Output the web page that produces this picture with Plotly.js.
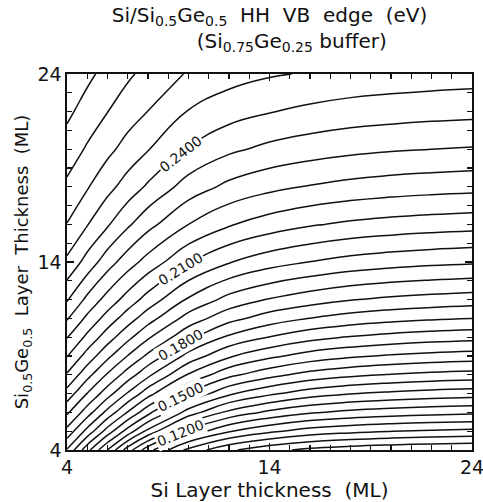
<!DOCTYPE html>
<html>
<head>
<meta charset="utf-8">
<script src="https://cdn.plot.ly/plotly-3.0.1.min.js"></script>
<style>html,body{margin:0;padding:0;background:#fff;}#chart{width:483px;height:502px;}</style>
</head>
<body>
<div id="chart"></div>
<script>
// Si layer thickness (ML) -- grid columns
const siThickness = [4, 5, 6, 7, 8, 10, 12, 14, 16, 18, 20, 22, 24];
// Si0.5Ge0.5 layer thickness (ML) -- grid rows
const sigeThickness = [4, 5, 6, 7, 8, 9, 10, 11, 12, 14, 16, 18, 20, 22, 24];

// HH VB edge (eV), one array per Si thickness column, values along sigeThickness
const zX4  = [0.1735,0.1840,0.1932,0.2016,0.2093,0.2163,0.2223,0.2286,0.2346,0.2448,0.2518,0.2568,0.2613,0.2653,0.2689];
const zX5  = [0.1581,0.1720,0.1828,0.1918,0.2001,0.2076,0.2146,0.2206,0.2265,0.2377,0.2463,0.2525,0.2573,0.2615,0.2654];
const zX6  = [0.1438,0.1593,0.1721,0.1826,0.1913,0.1995,0.2068,0.2136,0.2197,0.2307,0.2407,0.2479,0.2535,0.2581,0.2620];
const zX7  = [0.1290,0.1475,0.1616,0.1734,0.1832,0.1918,0.1997,0.2068,0.2135,0.2248,0.2350,0.2434,0.2498,0.2547,0.2590];
const zX8  = [0.1162,0.1363,0.1518,0.1644,0.1754,0.1847,0.1929,0.2006,0.2075,0.2197,0.2299,0.2391,0.2463,0.2519,0.2562];
const zX10 = [0.1000,0.1183,0.1353,0.1494,0.1614,0.1719,0.1814,0.1895,0.1972,0.2106,0.2220,0.2313,0.2396,0.2457,0.2514];
const zX12 = [0.0911,0.1086,0.1244,0.1390,0.1516,0.1628,0.1729,0.1820,0.1899,0.2044,0.2166,0.2265,0.2352,0.2425,0.2484];
const zX14 = [0.0859,0.1032,0.1185,0.1332,0.1460,0.1574,0.1678,0.1771,0.1856,0.2005,0.2131,0.2236,0.2325,0.2403,0.2466];
const zX16 = [0.0825,0.0995,0.1146,0.1288,0.1418,0.1535,0.1640,0.1739,0.1826,0.1979,0.2106,0.2216,0.2308,0.2386,0.2455];
const zX18 = [0.0807,0.0975,0.1124,0.1263,0.1393,0.1510,0.1616,0.1715,0.1803,0.1958,0.2089,0.2201,0.2295,0.2374,0.2444];
const zX20 = [0.0795,0.0961,0.1110,0.1247,0.1376,0.1493,0.1600,0.1699,0.1788,0.1945,0.2078,0.2191,0.2286,0.2367,0.2437];
const zX22 = [0.0786,0.0952,0.1100,0.1235,0.1364,0.1481,0.1588,0.1688,0.1778,0.1935,0.2070,0.2184,0.2280,0.2361,0.2432];
const zX24 = [0.0780,0.0945,0.1093,0.1227,0.1356,0.1473,0.1580,0.1680,0.1770,0.1928,0.2064,0.2179,0.2275,0.2357,0.2428];

// contour levels
const levelStart = 0.084, levelEnd = 0.27, levelStep = 0.006;
const labelledLevels = [0.12, 0.15, 0.18, 0.21, 0.24];
const labelAtSi = 9.6;            // Si thickness where the level labels sit
const xTickVals = [4, 14, 24];
const yTickVals = [4, 14, 24];

const columns = [zX4, zX5, zX6, zX7, zX8, zX10, zX12, zX14, zX16, zX18, zX20, zX22, zX24];
const z = sigeThickness.map((_, j) => columns.map(col => col[j]));

// z profile at an arbitrary Si thickness (linear between grid columns)
function profileAt(xv) {
  let i = 0;
  while (i < siThickness.length - 2 && siThickness[i + 1] < xv) i++;
  const t = (xv - siThickness[i]) / (siThickness[i + 1] - siThickness[i]);
  return columns[i].map((v, j) => v + t * (columns[i + 1][j] - v));
}
// SiGe thickness where the profile crosses a level
function crossing(profile, level) {
  for (let j = 0; j < profile.length - 1; j++) {
    const a = profile[j], b = profile[j + 1];
    if ((a - level) * (b - level) <= 0 && a !== b) {
      return sigeThickness[j] + (level - a) / (b - a) * (sigeThickness[j + 1] - sigeThickness[j]);
    }
  }
  return null;
}

const FONT = 'DejaVu Sans, Verdana, sans-serif';
const INK = '#111';

const trace = {
  type: 'contour', x: siThickness, y: sigeThickness, z: z,
  autocontour: false,
  contours: {coloring: 'none', start: levelStart, end: levelEnd, size: levelStep, showlabels: false},
  line: {color: INK, width: 1.5, smoothing: 1.3},
  showscale: false, hoverinfo: 'skip'
};

const margin = {l: 67, r: 11, t: 74, b: 52};
const plotW = 483 - margin.l - margin.r, plotH = 502 - margin.t - margin.b;
const pxPerX = plotW / 20, pxPerY = plotH / 20;

const p0 = profileAt(labelAtSi), pL = profileAt(labelAtSi - 0.8), pR = profileAt(labelAtSi + 0.8);
const labelAnnotations = labelledLevels.map(lv => {
  const yc = crossing(p0, lv), y1 = crossing(pL, lv), y2 = crossing(pR, lv);
  const slope = ((y2 - y1) * pxPerY) / (1.6 * pxPerX);
  return {
    x: labelAtSi, y: yc, xref: 'x', yref: 'y', showarrow: false,
    text: lv.toFixed(4), textangle: -Math.atan(slope) * 180 / Math.PI,
    font: {family: FONT, size: 14, color: INK},
    bgcolor: '#fff', borderpad: 1, xanchor: 'center', yanchor: 'middle'
  };
});

const axisCommon = {
  range: [4, 24], showgrid: false, zeroline: false,
  showline: true, linecolor: INK, linewidth: 1.6, mirror: 'ticks',
  ticks: 'inside', ticklen: 7, tickwidth: 1.2, tickcolor: INK,
  minor: {dtick: 1, tick0: 4, ticks: 'inside', ticklen: 5, tickwidth: 1.2, tickcolor: INK},
  tickfont: {family: FONT, size: 19, color: INK},
  ticklabeloverflow: 'allow',
  tickmode: 'array'
};

const NB = '\u00a0';
const layout = {
  width: 483, height: 502,
  margin: margin,
  paper_bgcolor: '#fff', plot_bgcolor: '#fff',
  showlegend: false,
  font: {family: FONT, color: INK},
  title: {
    text: 'Si/Si<sub>0.5</sub>Ge<sub>0.5</sub>' + NB + NB + 'HH' + NB + NB + 'VB' + NB + NB + 'edge' + NB + NB + '(eV)<br>' + NB.repeat(7) + '(Si<sub>0.75</sub>Ge<sub>0.25</sub>' + NB + 'buffer)',
    font: {family: FONT, size: 20, color: INK},
    xref: 'paper', x: 0.5, xanchor: 'center',
    yref: 'container', y: 0.957, yanchor: 'top'
  },
  xaxis: Object.assign({}, axisCommon, {
    tickvals: xTickVals,
    title: {text: 'Si' + NB + 'Layer' + NB + 'thickness' + NB + NB + '(ML)', font: {family: FONT, size: 20, color: INK}, standoff: 5}
  }),
  yaxis: Object.assign({}, axisCommon, {
    tickvals: yTickVals,
    title: {text: 'Si<sub>0.5</sub>Ge<sub>0.5</sub>' + NB + NB + 'Layer' + NB + NB + 'Thickness' + NB + NB + '(ML)' + NB.repeat(8), font: {family: FONT, size: 18, color: INK}, standoff: 4}
  }),
  annotations: labelAnnotations
};

Plotly.newPlot('chart', [trace], layout, {staticPlot: true, displayModeBar: false});
</script>
</body>
</html>
